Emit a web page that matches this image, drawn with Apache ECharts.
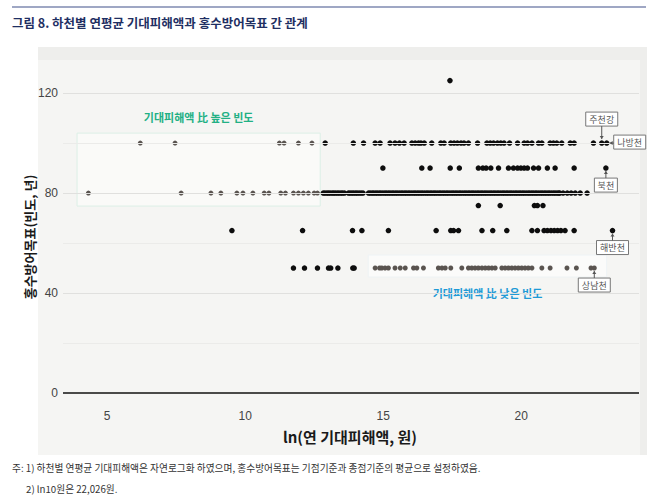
<!DOCTYPE html>
<html><head><meta charset="utf-8">
<script src="https://cdn.jsdelivr.net/npm/echarts@6/dist/echarts.min.js"></script>
<style>html,body{margin:0;padding:0;background:#fff}#c{width:658px;height:500px}</style>
</head><body><div id="c"></div>
<script>
// ---- data: ln(annual expected damage) values grouped by flood-protection target (years) ----
const lnDamage_T125 = [17.42];
const lnDamage_T100 = [12.90, 13.92, 14.29, 14.71, 14.89, 15.25, 15.43, 15.59, 15.76, 16.04, 16.16, 16.28, 16.37, 16.49, 16.76, 17.09, 17.21, 17.45, 17.57, 17.69, 17.82, 17.93, 18.09, 18.42, 18.76, 18.88, 19.00, 19.14, 19.26, 19.38, 19.58, 19.87, 20.11, 20.23, 20.39, 20.63, 20.75, 21.05, 21.17, 21.29, 21.47, 21.78, 21.92, 22.62, 22.92, 23.10];
const lnDamage_T100_high = [6.20, 7.46, 11.24, 11.41, 11.93, 12.42];
const lnDamage_T90 = [14.99, 16.40, 16.70, 17.43, 17.76, 18.45, 18.61, 18.73, 18.90, 19.18, 19.54, 19.72, 19.87, 19.99, 20.11, 20.23, 20.45, 20.63, 20.95, 21.23, 21.92, 23.07];
const lnDamage_T80 = [12.83, 12.89, 12.96, 13.02, 13.08, 13.15, 13.21, 13.27, 13.34, 13.40, 13.47, 13.53, 13.60, 13.74, 13.80, 13.87, 13.93, 14.00, 14.06, 14.13, 14.20, 14.27,
  14.47, 14.53, 14.60, 14.66, 14.73, 14.79, 14.86, 14.92, 14.99, 15.06, 15.12, 15.19, 15.25, 15.32, 15.38, 15.45, 15.51, 15.58, 15.65, 15.71, 15.78, 15.84, 15.91, 15.97, 16.04, 16.11, 16.17, 16.24, 16.30, 16.37, 16.43, 16.50, 16.57, 16.63, 16.70, 16.76, 16.83, 16.89, 16.96, 17.03, 17.09, 17.16, 17.22, 17.29, 17.35, 17.42, 17.49, 17.55, 17.62, 17.68, 17.75, 17.81, 17.88, 17.95, 18.01, 18.08, 18.14, 18.21, 18.27, 18.34, 18.41, 18.47, 18.54, 18.60, 18.67, 18.73, 18.80, 18.87, 18.93, 19.00, 19.06, 19.13, 19.19, 19.26, 19.33, 19.39, 19.46, 19.52, 19.59, 19.65, 19.72, 19.79, 19.85, 19.92, 19.98, 20.05, 20.11, 20.18, 20.25, 20.31, 20.38, 20.44, 20.51, 20.57, 20.64, 20.71, 20.77, 20.84, 20.90, 20.97, 21.03, 21.10, 21.17, 21.23, 21.30, 21.36, 21.40,
  21.52, 21.67, 21.81, 21.96, 22.14, 22.39];
const lnDamage_T80_high = [4.32, 7.68, 8.76, 9.12, 9.70, 9.92, 10.28, 10.69, 10.86, 11.29, 11.46, 11.75, 11.93, 12.11, 12.29, 12.50, 12.62];
const lnDamage_T75 = [18.45, 19.24, 20.48, 20.59, 20.79];
const lnDamage_T65 = [9.52, 12.08, 13.89, 14.23, 15.19, 16.92, 17.45, 17.55, 17.73, 18.58, 18.97, 19.48, 20.39, 20.59, 20.83, 20.95, 21.08, 21.20, 21.32, 21.44, 21.59, 21.92, 23.31];
const lnDamage_T50 = [11.75, 12.15, 12.62, 13.02, 13.10, 13.36, 13.90, 13.95];
const lnDamage_T50_low = [14.71, 14.87, 14.95, 15.07, 15.19, 15.43, 15.62, 15.80, 16.10, 16.22, 16.46, 17.00, 17.13, 17.25, 17.45, 17.85, 18.09, 18.21, 18.33, 18.45, 18.58, 18.70, 18.82, 18.94, 19.06, 19.30, 19.42, 19.54, 19.66, 19.78, 19.90, 20.02, 20.14, 20.26, 20.39, 20.75, 21.05, 21.66, 22.00, 22.53, 22.65];

const yTicks = [0, 40, 80, 120];
const yMinorGrid = [20, 60, 100];
const xTicks = [5, 10, 15, 20];

// highlighted regions [xStart, yTop, xEnd, yBottom]
const highBox = [3.91, 104, 12.72, 74.8];
const lowBox = [14.46, 55.2, 23.1, 46.4];

const calloutNames = ['주천강', '나방천', '북천', '해반천', '상남천'];
const calloutX = [22.92, 23.10, 23.07, 23.31, 22.65];
const calloutY = [100, 100, 90, 65, 50];
const calloutSide = ['above', 'right', 'below', 'below', 'below'];

// ---- build ----
function pts(xs, y) { return xs.map(x => [x, y]); }
const blackData = [].concat(
  pts(lnDamage_T125, 125), pts(lnDamage_T100, 100), pts(lnDamage_T90, 90),
  pts(lnDamage_T80, 80), pts(lnDamage_T75, 75), pts(lnDamage_T65, 65), pts(lnDamage_T50, 50));
const grayData = [].concat(pts(lnDamage_T100_high, 100), pts(lnDamage_T80_high, 80), pts(lnDamage_T50_low, 50));

const FONT = '"Noto Sans CJK KR", "Noto Sans", sans-serif';

const gridLines = [];
yMinorGrid.forEach(v => gridLines.push({ yAxis: v, lineStyle: { color: '#ebebe9', width: 1, type: 'solid' } }));
yTicks.forEach(v => gridLines.push({ yAxis: v, lineStyle: v === 0 ? { color: '#111', width: 1.6, type: 'solid' } : { color: '#e0e0de', width: 1, type: 'solid' } }));

const baseGraphic = [
  { id: 'bgOuter', type: 'rect', z: -20, silent: true, shape: { x: 38, y: 47, width: 609, height: 408 }, style: { fill: '#eeeeec' } },
  { id: 'bgInner', type: 'rect', z: -19, silent: true, shape: { x: 38, y: 60, width: 602, height: 395 }, style: { fill: '#f5f5f3' } },
  { id: 'topLine', type: 'line', silent: true, shape: { x1: 12, y1: 7, x2: 646, y2: 7 }, style: { stroke: '#7f8ab0', lineWidth: 1.5 } },
  { id: 'title', type: 'text', x: 12, y: 22, style: { text: '그림 8. 하천별 연평균 기대피해액과 홍수방어목표 간 관계', font: 'bold 12.5px ' + FONT, fill: '#1f2f63', verticalAlign: 'middle', align: 'left' } },
  { id: 'yName', type: 'text', x: 29, y: 237, rotation: Math.PI / 2, style: { text: '홍수방어목표(빈도, 년)', font: 'bold 13px ' + FONT, fill: '#1a1a1a', align: 'center', verticalAlign: 'middle' } },
  { id: 'xName', type: 'text', x: 350, y: 436, style: { text: 'ln(연 기대피해액, 원)', font: 'bold 15px ' + FONT, fill: '#1a1a1a', align: 'center', verticalAlign: 'middle' } },
  { id: 'note1', type: 'text', x: 12, y: 468, style: { text: '주: 1) 하천별 연평균 기대피해액은 자연로그화 하였으며, 홍수방어목표는 기점기준과 종점기준의 평균으로 설정하였음.', font: '9.7px ' + FONT, fill: '#333', verticalAlign: 'middle', align: 'left' } },
  { id: 'note2', type: 'text', x: 26, y: 489, style: { text: '2) ln10원은 22,026원.', font: '9.7px ' + FONT, fill: '#333', verticalAlign: 'middle', align: 'left' } }
];

const option = {
  animation: false,
  backgroundColor: '#ffffff',
  grid: { left: 63, right: 19, top: 65, bottom: 91.4, containLabel: false },
  xAxis: {
    type: 'value', min: 3.4, max: 24.27,
    axisLine: { show: false }, axisTick: { show: false }, splitLine: { show: false },
    axisLabel: { customValues: xTicks, color: '#444', fontSize: 12, margin: 1, fontFamily: 'Liberation Sans, Arial, sans-serif' }
  },
  yAxis: {
    type: 'value', min: -6.25, max: 131.25,
    axisLine: { show: false }, axisTick: { show: false }, splitLine: { show: false },
    axisLabel: { customValues: yTicks, color: '#444', fontSize: 12, margin: 5, fontFamily: 'Liberation Sans, Arial, sans-serif' }
  },
  graphic: { elements: baseGraphic },
  series: [
    {
      type: 'scatter', data: [], z: 1, silent: true,
      markLine: { silent: true, symbol: 'none', label: { show: false }, data: gridLines, animation: false }
    },
    {
      type: 'scatter', data: [], z: 1, silent: true,
      markArea: {
        silent: true,
        data: [
          [{ coord: [highBox[0], highBox[1]], itemStyle: { color: '#fafaf8', borderColor: '#dcefe6', borderWidth: 1, opacity: 1 },
             label: { show: true, position: 'top', distance: 10, formatter: '기대피해액 比 높은 빈도', color: '#22b084', fontSize: 11, fontWeight: 'bold', fontFamily: FONT } },
           { coord: [highBox[2], highBox[3]] }],
          [{ coord: [lowBox[0], lowBox[1]], itemStyle: { color: '#fbfbfa', borderColor: '#eef3f5', borderWidth: 1, opacity: 1 },
             label: { show: true, position: 'bottom', distance: 10, formatter: '기대피해액 比 낮은 빈도', color: '#1e9ad6', fontSize: 11, fontWeight: 'bold', fontFamily: FONT } },
           { coord: [lowBox[2], lowBox[3]] }]
        ]
      }
    },
    { type: 'scatter', data: grayData, z: 3, symbolSize: 5, itemStyle: { color: '#5a5450', opacity: 1, borderWidth: 0 } },
    { type: 'scatter', data: blackData, z: 4, symbolSize: 5.5, itemStyle: { color: '#0d0d0d', opacity: 1, borderWidth: 0 } }
  ]
};

const chart = echarts.init(document.getElementById('c'), null, { renderer: 'svg' });
chart.setOption(option);

const calloutEls = [];
calloutNames.forEach((name, i) => {
  const p = chart.convertToPixel({ gridIndex: 0 }, [calloutX[i], calloutY[i]]);
  const w = name.length * 9 + 5, h = 14;
  let cx, cy, a1, a2, head;
  if (calloutSide[i] === 'above') {
    cx = p[0]; cy = p[1] - 24; a1 = [p[0], cy + h / 2]; a2 = [p[0], p[1] - 4];
    head = [[a2[0] - 2, a2[1] - 3], [a2[0] + 2, a2[1] - 3], a2];
  } else if (calloutSide[i] === 'right') {
    cx = p[0] + 7 + w / 2; cy = p[1] - 1; a1 = [p[0] + 7, p[1]]; a2 = [p[0] + 3, p[1]];
    head = [[a2[0] + 3, a2[1] - 2], [a2[0] + 3, a2[1] + 2], a2];
  } else {
    cx = p[0]; cy = p[1] + 17; a1 = [p[0], cy - h / 2]; a2 = [p[0], p[1] + 3];
    head = [[a2[0] - 2, a2[1] + 3], [a2[0] + 2, a2[1] + 3], a2];
  }
  calloutEls.push({ id: 'cb' + i, type: 'rect', z: 20, silent: true, shape: { x: cx - w / 2, y: cy - h / 2, width: w, height: h }, style: { fill: '#ffffff', stroke: '#777', lineWidth: 1 } });
  calloutEls.push({ id: 'ct' + i, type: 'text', z: 21, silent: true, x: cx, y: cy, style: { text: name, font: '9px ' + FONT, fill: '#555', align: 'center', verticalAlign: 'middle' } });
  calloutEls.push({ id: 'cl' + i, type: 'polyline', z: 20, silent: true, shape: { points: [a1, a2] }, style: { stroke: '#555', lineWidth: 1 } });
  calloutEls.push({ id: 'ch' + i, type: 'polygon', z: 20, silent: true, shape: { points: head }, style: { fill: '#555' } });
});
chart.setOption({ graphic: { elements: calloutEls } });
</script></body></html>
